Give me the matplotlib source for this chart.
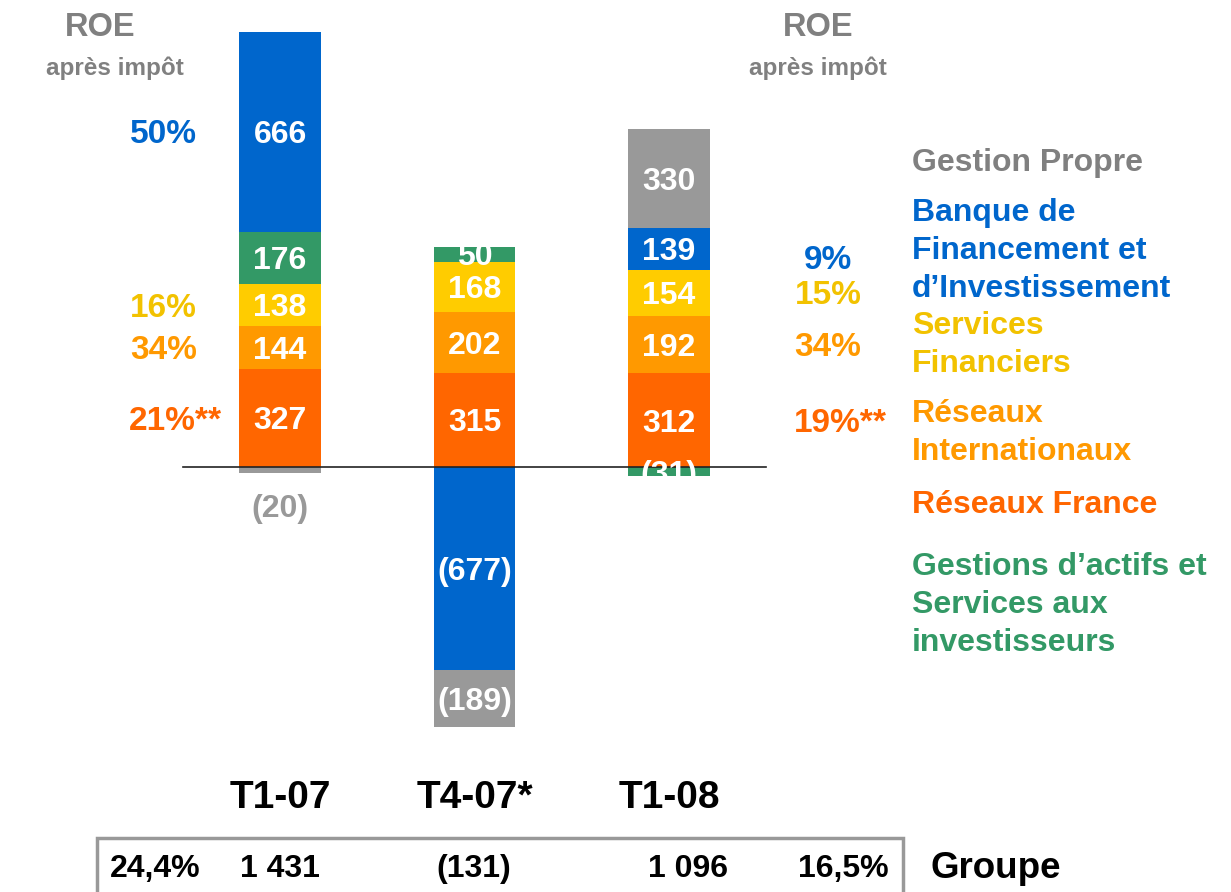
import matplotlib.pyplot as plt
from matplotlib import font_manager
from matplotlib.patches import Rectangle
import numpy as np

plt.rcParams['font.family'] = ['Liberation Sans', 'DejaVu Sans']
plt.rcParams['font.weight'] = 'bold'

# résultat net part du groupe par métier (M EUR)
periods = ['T1-07', 'T4-07*', 'T1-08']
reseaux_france = [327, 315, 312]
reseaux_intl = [144, 202, 192]
services_fin = [138, 168, 154]
gestion_actifs = [176, 50, -31]
bfi = [666, -677, 139]
gestion_propre = [-20, -189, 330]

roe_left = ['21%**', '34%', '16%', None, '50%', None]
roe_right = ['19%**', '34%', '15%', None, '9%', None]
totals = ['1 431', '(131)', '1 096']
roe_group = ['24,4%', '16,5%']

legend_labels = ['Gestion Propre',
                 'Banque de\nFinancement et\nd\u2019Investissement',
                 'Services\nFinanciers',
                 'R\u00e9seaux\nInternationaux',
                 'R\u00e9seaux France',
                 'Gestions d\u2019actifs et\nServices aux\ninvestisseurs']

colors = ['#FF6600', '#FF9900', '#FFCC00', '#339966', '#0066CC', '#999999']
text_colors = ['#FF6600', '#FF9900', '#F2C200', '#339966', '#0066CC', '#808080']

W, H = 1231, 892
fig = plt.figure(figsize=(W / 100, H / 100), dpi=100)
ax = fig.add_axes([0, 0, 1, 1])
ax.set_xlim(-280 / 194.5, (W - 280) / 194.5)
ax.set_ylim(-(H - 467) / 0.3, 467 / 0.3)
ax.axis('off')

DY = -11  # nudge for va='center' (which includes the descender)


def ftext(x, y, s, **kw):
    # place text with pixel coordinates (origin top-left)
    fig.text(x / W, 1 - (y + 3) / H, s, **kw)


series = [reseaux_france, reseaux_intl, services_fin, gestion_actifs, bfi, gestion_propre]
x = np.arange(len(periods))
width = 0.42
pos_base = np.zeros(len(periods))
neg_base = np.zeros(len(periods))
centers = []
for vals, col in zip(series, colors):
    vals = np.array(vals, dtype=float)
    bottom = np.where(vals >= 0, pos_base, neg_base)
    ax.bar(x, vals, width, bottom=bottom, color=col, zorder=2)
    mid = bottom + vals / 2
    centers.append(mid)
    for i, v in enumerate(vals):
        lab = f'{int(v)}' if v >= 0 else f'({int(-v)})'
        if abs(v) < 25:
            ax.text(x[i], bottom[i] + v - 110 + DY, lab, ha='center', va='center',
                    color='#999999', fontsize=23, zorder=4)
        else:
            ax.text(x[i], mid[i] + DY, lab, ha='center', va='center',
                    color='white', fontsize=23, zorder=4)
    pos_base += np.where(vals >= 0, vals, 0)
    neg_base += np.where(vals < 0, vals, 0)

ax.plot([-0.5, 2.5], [0, 0], color='#222222', lw=1.2, zorder=3)

# ROE après impôt, à gauche et à droite
def roe_label(xc, y, lab, col):
    if lab.endswith('**'):
        ax.text(xc - 0.175, y + DY, lab, ha='left', va='center', color=col, fontsize=24)
    else:
        ax.text(xc, y + DY, lab, ha='center', va='center', color=col, fontsize=24)


for k, (lab_l, lab_r) in enumerate(zip(roe_left, roe_right)):
    if lab_l:
        roe_label(-0.6, centers[k][0], lab_l, text_colors[k])
    if lab_r:
        y = centers[k][2] - (28 if k == 4 else 0)
        roe_label(2.817, y, lab_r, text_colors[k])

for xc in (100, 818):
    ftext(xc, 25, 'ROE', ha='center', va='center', color='#808080', fontsize=23.5)
for xc in (115, 818):
    ftext(xc, 65, 'apr\u00e8s imp\u00f4t', ha='center', va='center', color='#808080', fontsize=17.5)

# légende à droite
legend_y = [160, 210, 323, 411, 502, 564]
legend_col = ['#808080', '#0066CC', '#F2C200', '#FF9900', '#FF6600', '#339966']
for lab, yy, col in zip(legend_labels, legend_y, legend_col):
    for j, line in enumerate(lab.split('\n')):
        ftext(912, yy + 38 * j, line, ha='left', va='center', color=col, fontsize=23)

# périodes
for i, p in enumerate(periods):
    ax.text(x[i], -1093 + DY, p, ha='center', va='center', color='black', fontsize=28)

# ligne Groupe
names = {f.name for f in font_manager.fontManager.ttflist}
if 'Liberation Sans Narrow' in names:
    row_font = dict(family='Liberation Sans Narrow', fontsize=27)
else:
    row_font = dict(fontsize=23)
fig.patches.append(Rectangle((97 / W, 1 - 905 / H), 806 / W, 67 / H, fill=False,
                             edgecolor='#999999', lw=2.5, transform=fig.transFigure))
row_x = [155, 280, 474, 688, 843]
row_vals = [roe_group[0]] + totals + [roe_group[1]]
for xx, s in zip(row_x, row_vals):
    ftext(xx, 866, s, ha='center', va='center', color='black', **row_font)
ftext(931, 866, 'Groupe', ha='left', va='center', color='black', fontsize=26.5)

fig.savefig('out.png', dpi=100)
